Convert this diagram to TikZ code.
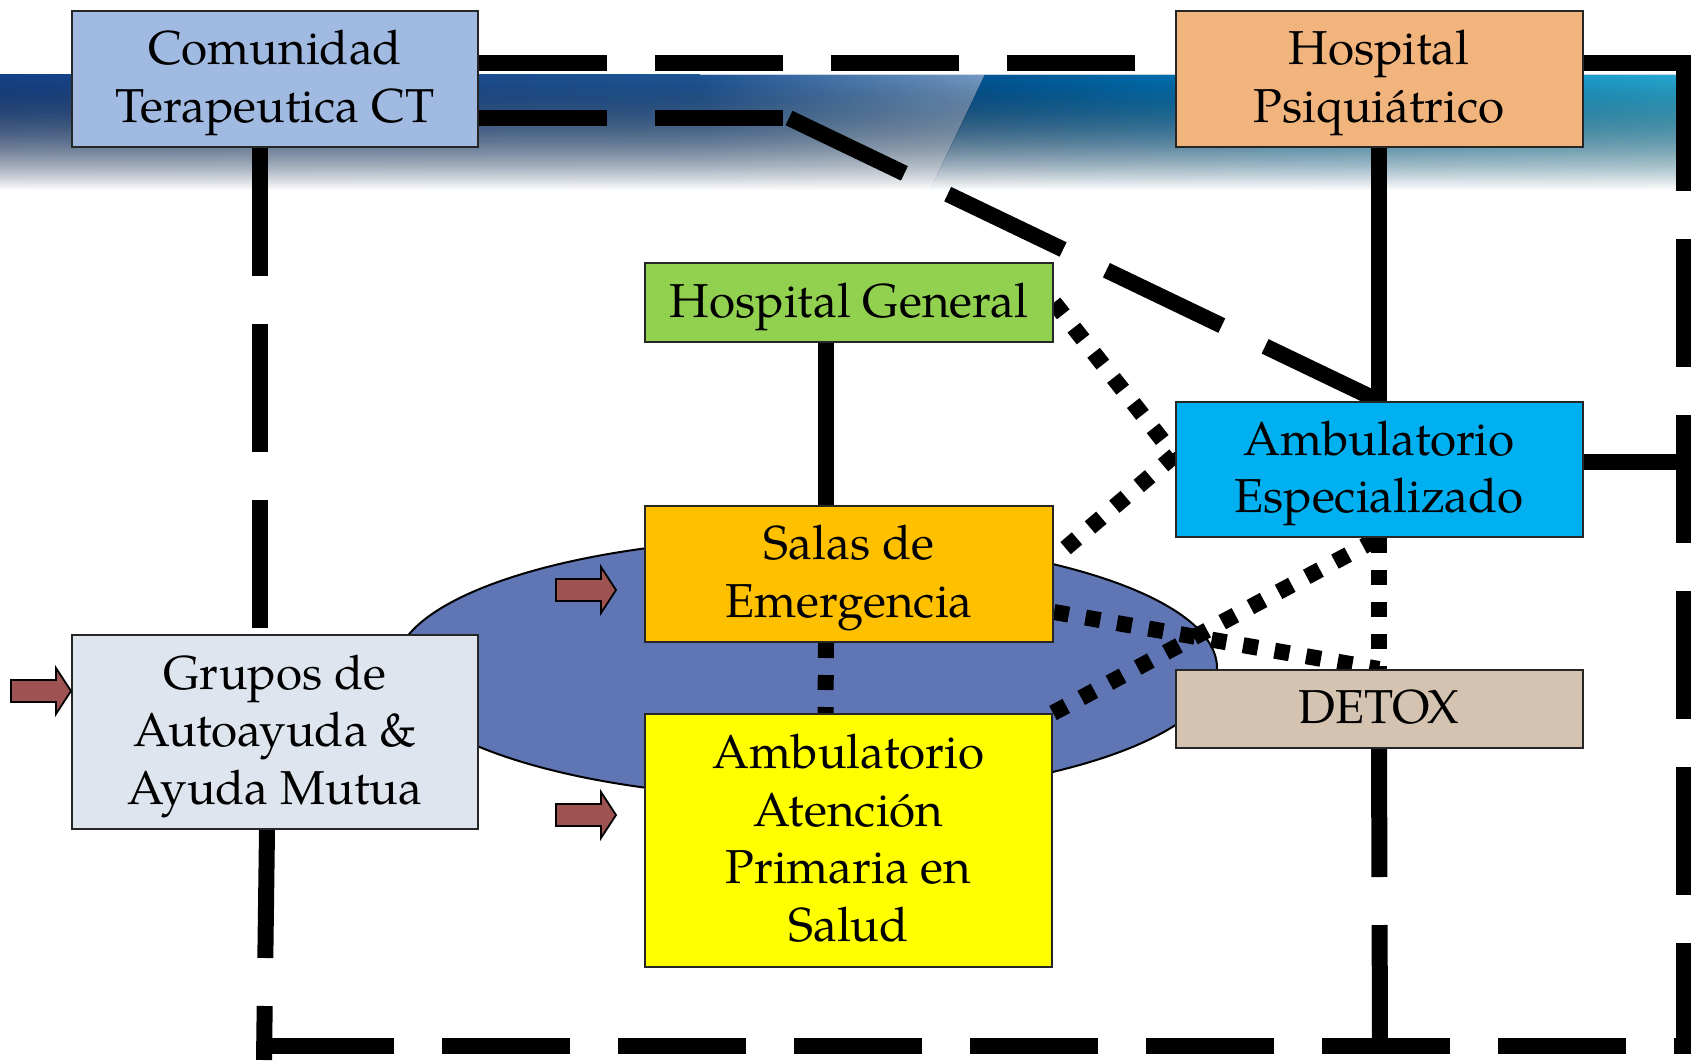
\documentclass[tikz,border=0pt]{standalone}
\usepackage{fontspec}
\setmainfont{texgyrepagella}[Extension=.otf, UprightFont=*-regular, BoldFont=*-bold, ItalicFont=*-italic, BoldItalicFont=*-bolditalic]
\usetikzlibrary{calc,fadings,shapes.geometric}
\pgfdeclarelayer{bg}
\pgfsetlayers{bg,main}
\definecolor{ctblue}{RGB}{161,186,225}
\definecolor{hporange}{RGB}{240,180,124}
\definecolor{hggreen}{RGB}{146,208,80}
\definecolor{aecyan}{RGB}{0,176,240}
\definecolor{salasorange}{RGB}{255,192,0}
\definecolor{aapsyellow}{RGB}{255,255,0}
\definecolor{grupogrey}{RGB}{223,229,238}
\definecolor{detoxtan}{RGB}{212,195,176}
\definecolor{ellblue}{RGB}{96,118,180}
\definecolor{arrowred}{RGB}{158,82,82}
\definecolor{bnavy}{RGB}{22,66,136}
\definecolor{bnavytwo}{RGB}{30,85,150}
\definecolor{bsteel}{RGB}{115,155,198}
\definecolor{bdark}{RGB}{0,80,145}
\definecolor{bmid}{RGB}{0,128,192}
\definecolor{bcyan}{RGB}{40,170,212}
\tikzfading[name=bannerfade, top color=transparent!0, bottom color=transparent!100]
\tikzset{
  box/.style={draw=black!85, line width=1pt, inner sep=0pt,
    font=\fontsize{23.8pt}{28.75pt}\selectfont},
  conn/.style={line width=8pt},
  longdash/.style={line width=8pt, dash pattern=on 64pt off 24pt},
  sqdot/.style={line width=8pt, dash pattern=on 7.5pt off 8.5pt},
  blockarrow/.style={draw=black, line width=0.9pt, fill=arrowred, line join=miter},
}
\newcommand{\btext}[1]{\vbox{\kern3.2pt\hbox{\begin{tabular}{@{}c@{}}#1\end{tabular}}}}
\newcommand{\blkarrow}[2]{%
  \draw[blockarrow] (#1,#2) ++(0,-11) -- ++(45,0) -- ++(0,-12) -- ++(15,23) -- ++(-15,23) -- ++(0,-12) -- ++(-45,0) -- cycle;}
\begin{document}
\begin{tikzpicture}[x=0.5pt,y=-0.5pt]
\useasboundingbox (0,0) rectangle (1691,1060);

% boxes
\path
  (275,79)     node[box, fill=ctblue, minimum width=203pt, minimum height=68pt] (CT) {\btext{Comunidad\\Terapeutica CT}}
  (1379,79)    node[box, fill=hporange, minimum width=203.5pt, minimum height=68pt] (HP) {\btext{Hospital\\Psiquiátrico}}
  (849,302.5)  node[box, fill=hggreen, minimum width=204pt, minimum height=39.5pt] (HG) {\btext{Hospital General}}
  (1379,469.5) node[box, fill=aecyan, minimum width=203.5pt, minimum height=67.5pt] (AE) {\btext{Ambulatorio\\Especializado}}
  (849,574)    node[box, fill=salasorange, minimum width=204pt, minimum height=68pt] (SE) {\btext{Salas de\\Emergencia}}
  (275,732)    node[box, fill=grupogrey, minimum width=203pt, minimum height=97pt] (GA) {\btext{Grupos de\\Autoayuda \&\\Ayuda Mutua}}
  (848.5,840.5) node[box, fill=aapsyellow, minimum width=203.5pt, minimum height=126.5pt] (AP) {\btext{Ambulatorio\\Atención\\Primaria en\\Salud}}
  (1379,709)   node[box, fill=detoxtan, minimum width=203.5pt, minimum height=39pt] (DX) {\btext{DETOX}};

% helper coordinates
\coordinate (bend) at (789,118);
\coordinate (TR) at (1684,63);
\coordinate (TRend) at (1692,63);
\coordinate (BR) at (1684,1046);
\coordinate (BRend) at (1692,1046);
\coordinate (BL) at (266,1046);
\coordinate (Rmid) at (1684,462);
\coordinate (Bmid) at (1380,1046);
\coordinate (Lx) at (260,0);
\coordinate (LB) at (264,1060);

\begin{pgfonlayer}{bg}
% banner background
\fill[left color=bnavy, right color=bnavytwo, path fading=bannerfade] (0,75) rectangle (700,190);
\fill[left color=bnavytwo, right color=bsteel, path fading=bannerfade] (700,75) -- (985,75) -- (930,190) -- (700,190) -- cycle;
\fill[left color=bdark, right color=bcyan, middle color=bmid, path fading=bannerfade] (985,75) -- (1691,75) -- (1691,190) -- (930,190) -- cycle;

% ellipse
\node[ellipse, draw=black, line width=1pt, fill=ellblue, minimum width=411pt, minimum height=130pt, inner sep=0pt] (oval) at (806,668) {};

% dashed connectors
\draw[longdash] (CT.east |- 0,63) -- (HP.west |- 0,63);
\draw[longdash] (CT.east |- 0,118) -- (bend);
\draw[longdash] (bend) -- (AE.north);
\draw[conn] (HP.east |- TR) -- (TRend);
\draw[longdash] (TR) -- (BR);
\draw[longdash] (BL) -- (BRend);
\draw[conn] (AE.east |- Rmid) -- (Rmid);
\draw[longdash] (DX.south) -- (Bmid);
\draw[longdash] (CT.south -| Lx) -- (GA.north -| Lx);
\draw[longdash] ($(GA.south)+(-8,0)$) -- (LB);
% solid connectors
\draw[conn] (HP.south) -- (AE.north);
\draw[conn] ($(HG.south)+(-23,0)$) -- ($(SE.north)+(-23,0)$);
% dotted connectors
\draw[sqdot] ($(SE.south)+(-23,0)$) -- ($(AP.north)+(-23,0)$);
\draw[sqdot] (HG.east) -- ($(AE.west)+(0,-14)$);
\draw[sqdot] ($(AE.west)+(0,-14)$) -- ($(SE.east)+(0,-16)$);
\draw[sqdot] ($(SE.east)+(0,38)$) -- (DX.north);
\draw[sqdot] (AP.north east) -- (AE.south);
\draw[sqdot] (AE.south) -- (DX.north);
\end{pgfonlayer}

% block arrows
\blkarrow{556}{590}
\blkarrow{556}{815}
\blkarrow{11}{691}
\end{tikzpicture}
\end{document}
